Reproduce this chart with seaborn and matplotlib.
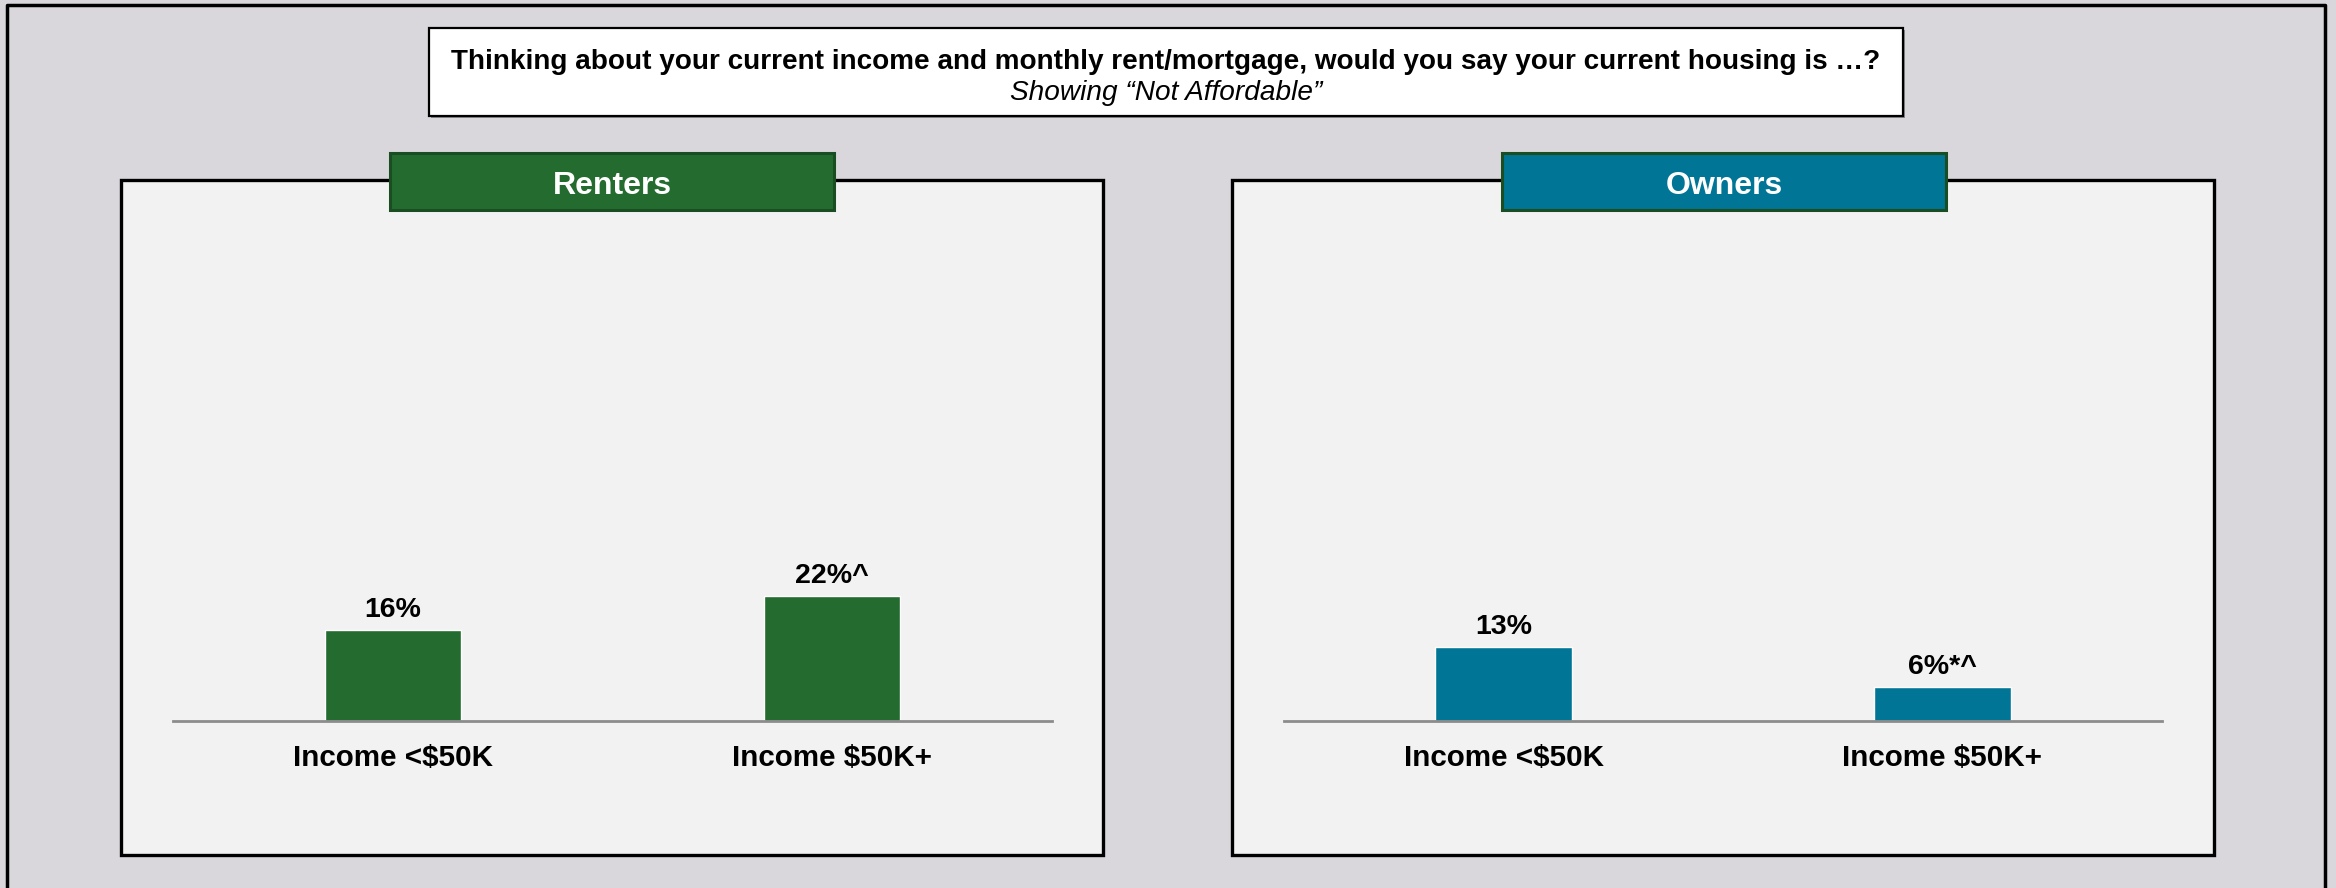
import matplotlib
matplotlib.use("Agg")
import matplotlib.pyplot as plt
from matplotlib.patches import Rectangle
import seaborn as sns
import pandas as pd

# --- data -------------------------------------------------------------
categories = ["Income <$50K", "Income $50K+"]
renters_values = [16, 22]
renters_marks = ["", "^"]
owners_values = [13, 6]
owners_marks = ["", "*^"]
panel_titles = ["Renters", "Owners"]
title_line1 = "Thinking about your current income and monthly rent/mortgage, would you say your current housing is \u2026?"
title_line2 = "Showing \u201cNot Affordable\u201d"

# --- style ------------------------------------------------------------
sns.set_theme(style="white")
plt.rcParams["font.family"] = ["Liberation Sans", "DejaVu Sans"]

W, H = 2336, 888
DPI = 100
fig = plt.figure(figsize=(W / DPI, H / DPI), dpi=DPI)
fig.patch.set_facecolor("#D9D7DC")

GREEN = "#236B2E"
TEAL = "#007596"
PANEL_BG = "#F2F2F2"


def frac(x0, y0, x1, y1):
    """Pixel box (top-left origin) -> figure fraction [left, bottom, w, h]."""
    return [x0 / W, 1 - y1 / H, (x1 - x0) / W, (y1 - y0) / H]


def box(x0, y0, x1, y1, fc, ec, lw, z=1, shadow=False):
    l, b, w, h = frac(x0, y0, x1, y1)
    if shadow:
        fig.patches.append(Rectangle((l + 2 / W, b - 2 / H), w, h, transform=fig.transFigure,
                                     facecolor="#8C8C8C", edgecolor="none", zorder=z - 0.1))
    fig.patches.append(Rectangle((l, b), w, h, transform=fig.transFigure,
                                 facecolor=fc, edgecolor=ec, linewidth=lw, zorder=z))


# outer frame (open at the bottom edge)
fig.add_artist(plt.Line2D([7 / W, 7 / W, 2325 / W, 2325 / W], [0, 1 - 5 / H, 1 - 5 / H, 0],
                          transform=fig.transFigure, color="black", linewidth=2.5, zorder=2))

# question box
box(429, 28, 1903, 116, "white", "black", 1.6, z=2, shadow=True)
fig.text((429 + 1903) / 2 / W, 1 - 62 / H, title_line1, ha="center", va="center",
         fontsize=20.1, fontweight="bold", color="black", zorder=3)
fig.text((429 + 1903) / 2 / W, 1 - 93 / H, title_line2, ha="center", va="center",
         fontsize=20.2, fontstyle="italic", color="black", zorder=3)

panels = [
    dict(x0=121, x1=1103, hx0=390, hx1=834, ax0=173, ax1=1052,
         values=renters_values, marks=renters_marks, color=GREEN, title=panel_titles[0]),
    dict(x0=1232, x1=2214, hx0=1502, hx1=1946, ax0=1284, ax1=2162,
         values=owners_values, marks=owners_marks, color=TEAL, title=panel_titles[1]),
]

BASE_Y = 721
PX_PER_PCT = 5.66
YMAX = 50

for p in panels:
    # panel card
    box(p["x0"], 180, p["x1"], 855, PANEL_BG, "black", 2.4, z=1, shadow=True)
    # header tab
    box(p["hx0"], 153, p["hx1"], 210, p["color"], "#1B4D22", 2.2, z=3)
    fig.text((p["hx0"] + p["hx1"]) / 2 / W, 1 - 186 / H, p["title"], ha="center", va="center",
             fontsize=23, fontweight="bold", color="white", zorder=4)

    top = BASE_Y - YMAX * PX_PER_PCT
    ax = fig.add_axes(frac(p["ax0"], top, p["ax1"], BASE_Y))
    ax.set_zorder(5)
    ax.patch.set_alpha(0)

    df = pd.DataFrame({"category": categories, "value": p["values"]})
    sns.barplot(data=df, x="category", y="value", color=p["color"], width=0.31,
                saturation=1, ax=ax, errorbar=None)
    ax.set_xlim(-0.5, 1.5)
    ax.set_ylim(0, YMAX)

    for i, (v, m) in enumerate(zip(p["values"], p["marks"])):
        ax.text(i, v + 1.3, f"{v}%{m}", ha="center", va="bottom",
                fontsize=20.5, fontweight="bold", color="black")

    for side in ("top", "left", "right"):
        ax.spines[side].set_visible(False)
    ax.spines["bottom"].set_color("#8C8C8C")
    ax.spines["bottom"].set_linewidth(2)
    ax.set_yticks([])
    ax.set_xlabel("")
    ax.set_ylabel("")
    ax.tick_params(axis="x", length=0, pad=16.5)
    for lab in ax.get_xticklabels():
        lab.set_fontsize(21.3)
        lab.set_fontweight("bold")
        lab.set_color("black")

fig.savefig("out.png", dpi=DPI, facecolor=fig.get_facecolor())
